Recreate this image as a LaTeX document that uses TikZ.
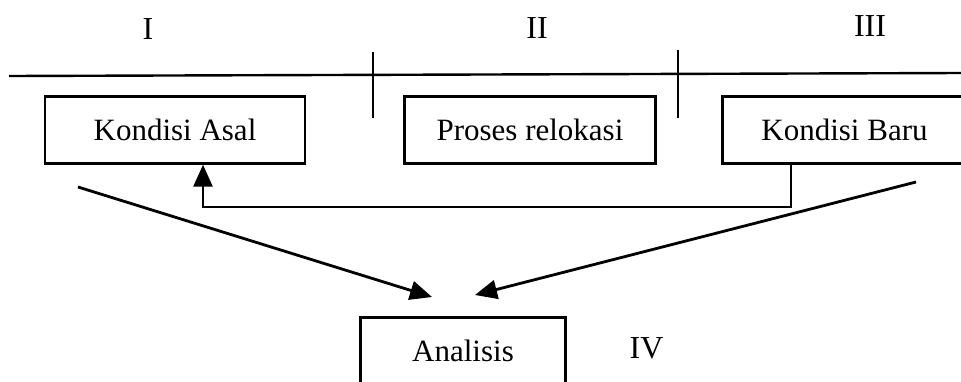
\documentclass[tikz,border=0pt]{standalone}
\usepackage{fontspec}
\setmainfont{Liberation Serif}
\usetikzlibrary{positioning,arrows.meta}

\begin{document}
\begin{tikzpicture}[
  x=1pt, y=1pt,
  block/.style={rectangle, draw, line width=2.4pt, minimum width=260pt, minimum height=67pt, font=\fontsize{31}{37}\selectfont},
  numeral/.style={font=\fontsize{32}{38}\selectfont},
  arr/.style={-{Triangle[length=22pt,width=19pt]}, line width=2.8pt},
  node distance=355pt,
  line width=2.4pt
]
\useasboundingbox (0,0) rectangle (961,-381);

% phase line
\draw (9,-76) -- (961,-73);
\draw (373,-52) -- (373,-118);
\draw (678,-50) -- (678,-118);

\node[numeral] (one) at (148,-29) {I};
\node[numeral] (two) at (537,-28) {II};
\node[numeral] (three) at (870,-26) {III};

\node[block] (asal) at (175,-130) {Kondisi Asal};
\node[block, right of=asal, minimum width=251pt] (proses) {Proses relokasi};
\node[block, right of=proses, node distance=314.5pt, minimum width=244pt] (baru) {Kondisi Baru};
\node[block, below of=proses, node distance=221pt, xshift=-67pt, minimum width=205pt] (analisis) {Analisis};
\node[numeral, right of=analisis, node distance=183.5pt, yshift=3pt] (four) {IV};

% feedback
\coordinate (fbr) at (791,-207);
\coordinate (fbl) at (203,-207);
\draw[arr] (baru.south -| fbr) -- (fbr) -- (fbl) -- (asal.south -| fbl);

% into analisis
\coordinate (lfrom) at (78,-187);
\coordinate (lto) at (432,-297);
\coordinate (rfrom) at (916,-182);
\coordinate (rto) at (475,-295);
\draw[arr] (lfrom) -- (lto);
\draw[arr] (rfrom) -- (rto);
\end{tikzpicture}
\end{document}
